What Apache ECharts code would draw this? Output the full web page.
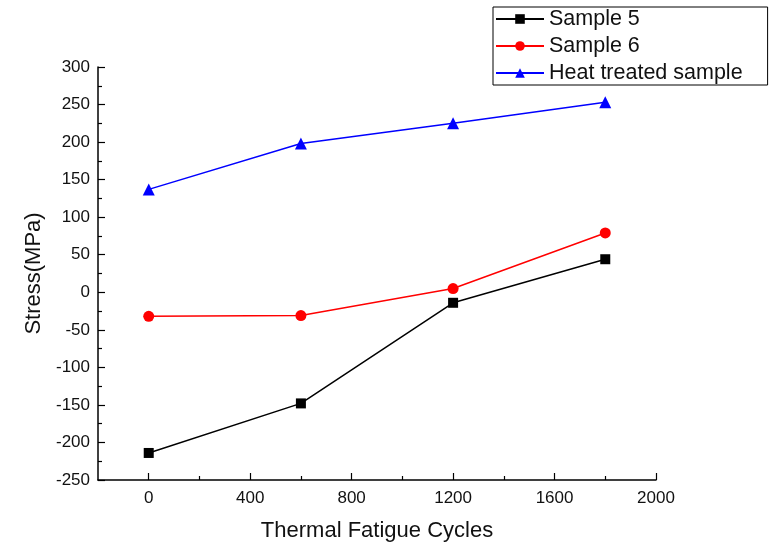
<!DOCTYPE html>
<html>
<head>
<meta charset="utf-8">
<script src="https://cdn.jsdelivr.net/npm/echarts@6/dist/echarts.min.js"></script>
<style>
  html, body { margin: 0; padding: 0; background: #ffffff; }
  #chart { width: 773px; height: 544px; }
</style>
</head>
<body>
<div id="chart"></div>
<script>
// Thermal fatigue cycles (x values)
const cycles = [0, 600, 1200, 1800];
// Residual stress, MPa
const sample5 = [-214, -148, -14, 44];
const sample6 = [-32, -31, 5, 79];
const heatTreated = [137, 198, 225, 253];

const seriesNames = ['Sample 5', 'Sample 6', 'Heat treated sample'];
const xMajorTicks = [0, 400, 800, 1200, 1600, 2000];
const xMinorTicks = [200, 600, 1000, 1400, 1800];

const font = 'Liberation Sans, Arial, sans-serif';
const pairs = (ys) => cycles.map((x, i) => [x, ys[i]]);
const plain = (v) => String(v);

const chart = echarts.init(document.getElementById('chart'));
chart.setOption({
  backgroundColor: '#ffffff',
  animation: false,
  grid: { left: 98, right: 117, top: 67, bottom: 64, containLabel: false, outerBoundsMode: 'none' },
  legend: {
    orient: 'vertical',
    left: 493,
    top: 7,
    padding: [1, 25, 1, 2],
    itemGap: 5,
    itemWidth: 48,
    itemHeight: 12,
    borderColor: '#000',
    borderWidth: 1,
    textStyle: { fontFamily: font, fontSize: 21.5, color: '#111' },
    data: seriesNames
  },
  xAxis: [
    {
      type: 'value',
      min: -200,
      max: 2000,
      interval: 200,
      name: 'Thermal Fatigue Cycles',
      nameLocation: 'middle',
      nameGap: 40,
      nameTextStyle: { fontFamily: font, fontSize: 22, color: '#111' },
      splitLine: { show: false },
      axisLine: { show: true, onZero: false, lineStyle: { color: '#000', width: 1.5 } },
      axisTick: { show: true, inside: true, length: 7, customValues: xMajorTicks, lineStyle: { color: '#000', width: 1.2 } },
      axisLabel: { customValues: xMajorTicks, formatter: plain, fontFamily: font, fontSize: 17, color: '#111', margin: 10 }
    },
    {
      type: 'value',
      min: -200,
      max: 2000,
      interval: 200,
      position: 'bottom',
      splitLine: { show: false },
      axisLine: { show: false, onZero: false },
      axisTick: { show: true, inside: true, length: 4, customValues: xMinorTicks, lineStyle: { color: '#000', width: 1.2 } },
      axisLabel: { show: false }
    }
  ],
  yAxis: {
    type: 'value',
    min: -250,
    max: 300,
    interval: 50,
    name: 'Stress(MPa)',
    nameLocation: 'middle',
    nameGap: 49,
    nameTextStyle: { fontFamily: font, fontSize: 22, color: '#111' },
    splitLine: { show: false },
    axisLine: { show: true, onZero: false, lineStyle: { color: '#000', width: 1.5 } },
    axisTick: { show: true, inside: true, length: 7, lineStyle: { color: '#000', width: 1.2 } },
    minorTick: { show: true, splitNumber: 2, length: 4, lineStyle: { color: '#000', width: 1.2 } },
    axisLabel: { formatter: plain, fontFamily: font, fontSize: 17, color: '#111', margin: 8 }
  },
  series: [
    {
      name: seriesNames[0], type: 'line', data: pairs(sample5),
      symbol: 'rect', symbolSize: 10,
      lineStyle: { color: '#000', width: 1.5 },
      itemStyle: { color: '#000' }
    },
    {
      name: seriesNames[1], type: 'line', data: pairs(sample6),
      symbol: 'circle', symbolSize: 11,
      lineStyle: { color: '#ff0000', width: 1.5 },
      itemStyle: { color: '#ff0000' }
    },
    {
      name: seriesNames[2], type: 'line', data: pairs(heatTreated),
      symbol: 'triangle', symbolSize: 12,
      lineStyle: { color: '#0000ff', width: 1.5 },
      itemStyle: { color: '#0000ff' }
    }
  ]
});
</script>
</body>
</html>
